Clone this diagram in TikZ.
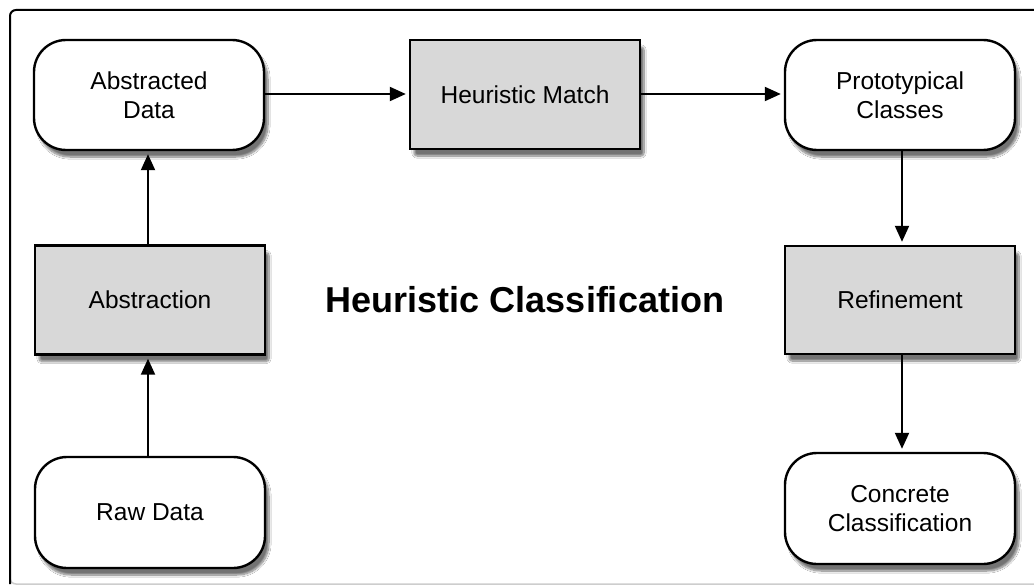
\documentclass[tikz,border=0pt]{standalone}
\usepackage{fontspec}
\setmainfont{Liberation Sans}
\usetikzlibrary{arrows.meta,shadows.blur}
\definecolor{boxgray}{RGB}{216,216,216}
\definecolor{framegray}{RGB}{205,205,205}
\tikzset{
  base/.style={draw=black, line width=2.4pt, minimum width=230pt, minimum height=110pt,
    align=center, font=\fontsize{24.5}{29}\selectfont, inner sep=0pt,
    blur shadow={shadow xshift=4pt, shadow yshift=-7pt, shadow blur steps=10, shadow blur extra rounding=3pt, shadow opacity=55}},
  roundbox/.style={base, fill=white, rounded corners=32pt},
  graybox/.style={base, fill=boxgray},
  conn/.style={line width=2pt, -{Triangle[length=16pt,width=14pt]}, shorten >=3pt},
}
\begin{document}
\begin{tikzpicture}[x=1pt,y=-1pt]
\useasboundingbox (0,0) rectangle (1034,586);
\fill[white] (0,0) rectangle (1034,586);
% frame
\draw[framegray, line width=1.5pt, rounded corners=6pt] (10,300) -- (10,584) -- (1040,584);
\draw[black, line width=2pt, rounded corners=6pt] (1040,10) -- (10,10) -- (10,584);
% nodes
\node[roundbox] (ad) at (149,95) {Abstracted\\Data};
\node[graybox, minimum height=109pt] (hm) at (525,94.5) {Heuristic Match};
\node[roundbox] (pc) at (900,95) {Prototypical\\Classes};
\node[graybox, minimum height=109pt] (ab) at (150,300) {Abstraction};
\node[graybox, minimum height=108pt] (rf) at (900,300) {Refinement};
\node[roundbox, minimum height=111pt] (rd) at (150,512.5) {Raw Data};
\node[roundbox, minimum height=111pt] (cc) at (900,508.5) {Concrete\\Classification};
\node[font=\fontsize{36}{40}\selectfont\bfseries] (title) at (525,300) {Heuristic Classification};
% connectors
\draw[conn] (ad.east |- 0,94) -- (hm.west |- 0,94);
\draw[conn] (hm.east |- 0,94) -- (pc.west |- 0,94);
\draw[conn] (pc.south -| 902,0) -- (rf.north -| 902,0);
\draw[conn] (rf.south -| 902,0) -- (cc.north -| 902,0);
\draw[conn] (rd.north -| 148,0) -- (ab.south -| 148,0);
\draw[conn] (ab.north -| 148,0) -- (ad.south -| 148,0);
\end{tikzpicture}
\end{document}
